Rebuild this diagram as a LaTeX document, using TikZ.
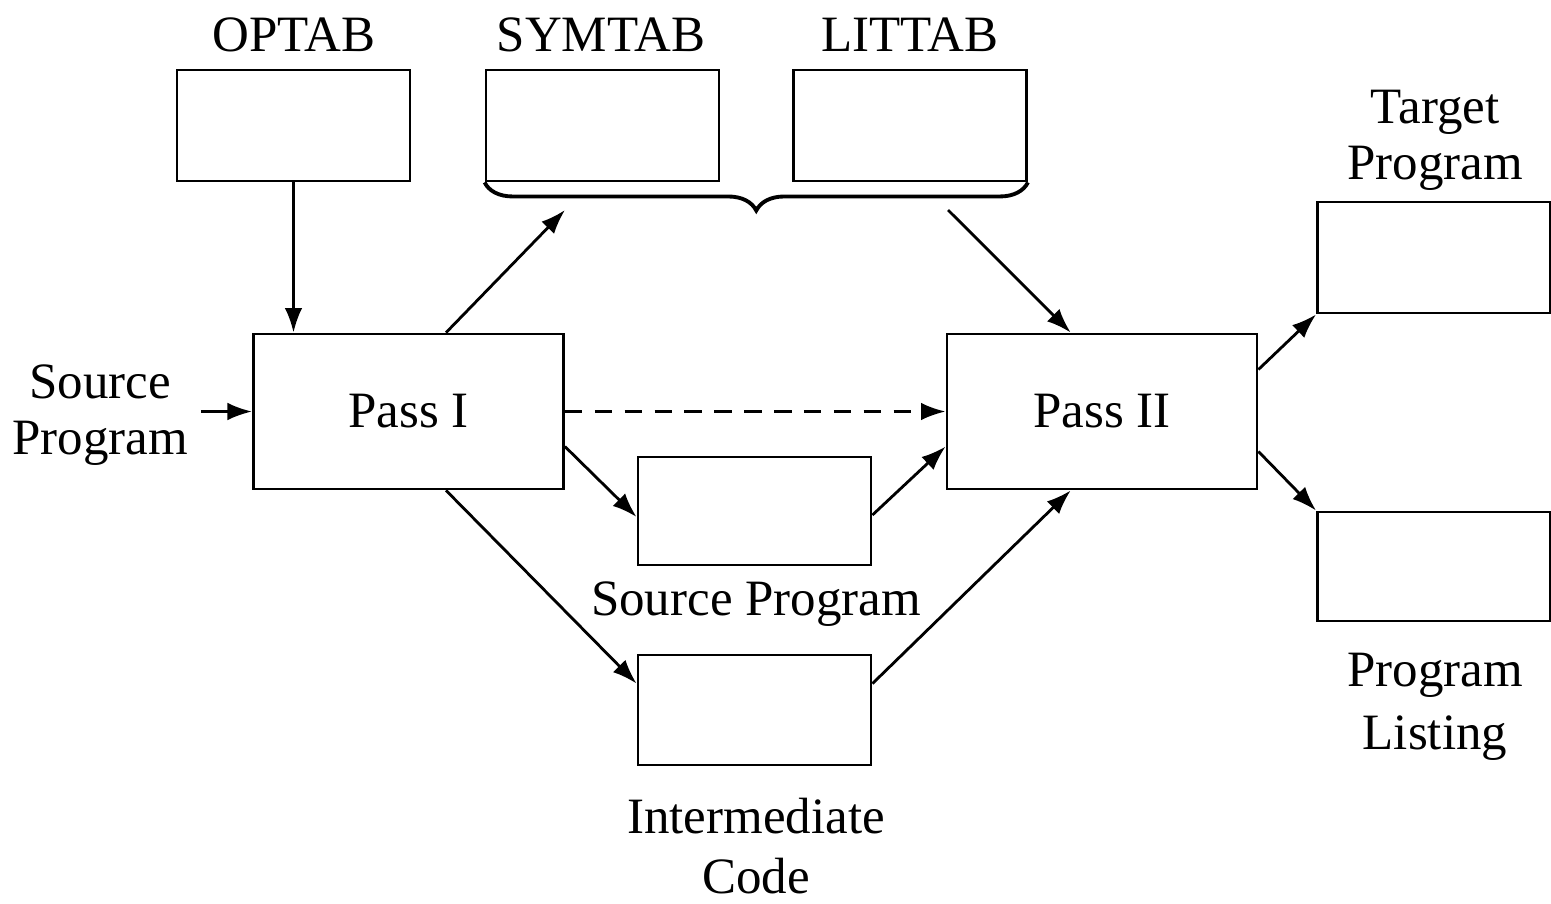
\documentclass[tikz,border=0pt]{standalone}
\usepackage{fontspec}
\setmainfont{Liberation Serif}
\usetikzlibrary{arrows.meta,calc,decorations.pathreplacing}
\tikzset{every path/.style={line width=0.8pt},
  tab/.style={draw, minimum width=2.33cm, minimum height=1.11cm, inner sep=0pt},
  pass/.style={draw, minimum width=3.1cm, minimum height=1.55cm, inner sep=0pt},
  lbl/.style={align=center, font=\fontsize{14.5}{16}\selectfont},
  conn/.style={-{Latex[length=7pt,width=5pt]}}}

\begin{document}
\begin{tikzpicture}
  \useasboundingbox (0,0) rectangle (15.51,-9.03);
  % tables
  \node[tab] (optab)  at ( 2.935,-1.255) {};
  \node[tab] (symtab) at ( 6.025,-1.255) {};
  \node[tab] (littab) at ( 9.100,-1.255) {};
  \node[lbl] (optabl)  at (2.94,-0.35) {OPTAB};
  \node[lbl] (symtabl) at (6.01,-0.35) {SYMTAB};
  \node[lbl] (littabl) at (9.10,-0.35) {LITTAB};
  \draw[decorate, decoration={brace,mirror,amplitude=8pt}, line width=1.1pt]
    (symtab.south west) -- (littab.south east);
  \coordinate (bl) at (5.65,-2.10);
  \coordinate (br) at (9.48,-2.10);
  % passes
  \node[pass] (pass1) at ( 4.085,-4.115) {};
  \node[pass] (pass2) at (11.020,-4.115) {};
  \node[lbl] at (pass1) {Pass I};
  \node[lbl] at (pass2) {Pass II};
  \node[lbl] (srcl) at (1.00,-4.15) {Source\\Program};
  % files
  \node[tab, minimum height=1.08cm] (srcbox) at (7.545,-5.11) {};
  \node[tab, minimum height=1.10cm] (icbox)  at (7.545,-7.10) {};
  \node[tab] (tgtbox) at (14.340,-2.575) {};
  \node[tab, minimum height=1.09cm] (lstbox) at (14.340,-5.665) {};
  \node[lbl] (srcboxl) at (7.56,-6.04) {Source Program};
  \node[lbl] (icboxl)  at (7.56,-8.46) {Intermediate\\[1pt]Code};
  \node[lbl] (tgtboxl) at (14.35,-1.40) {Target\\Program};
  \node[lbl] (lstboxl) at (14.35,-7.07) {Program\\[2pt]Listing};
  % connectors
  \draw[conn] (optab.south) -- (optab.south |- pass1.north);
  \draw[conn] (srcl.east |- pass1.west) -- (pass1.west);
  \draw[conn] ($(pass1.north west)!.62!(pass1.north east)$) -- (bl);
  \draw[conn] (br) -- ($(pass2.north west)!.40!(pass2.north east)$);
  \draw[conn, dash pattern=on 5pt off 3.5pt] (pass1.east) -- (pass2.west);
  \draw[conn] ($(pass1.east)+(0,-0.35)$) -- ($(srcbox.west)+(0,-0.06)$);
  \draw[conn] ($(srcbox.east)+(0,-0.04)$) -- ($(pass2.west)+(0,-0.35)$);
  \draw[conn] ($(pass1.south west)!.62!(pass1.south east)$) -- ($(icbox.north west)+(0,-0.30)$);
  \draw[conn] ($(icbox.north east)+(0,-0.30)$) -- ($(pass2.south west)!.40!(pass2.south east)$);
  \draw[conn] ($(pass2.east)+(0,0.42)$) -- (tgtbox.south west);
  \draw[conn] ($(pass2.east)+(0,-0.40)$) -- (lstbox.north west);
\end{tikzpicture}
\end{document}
